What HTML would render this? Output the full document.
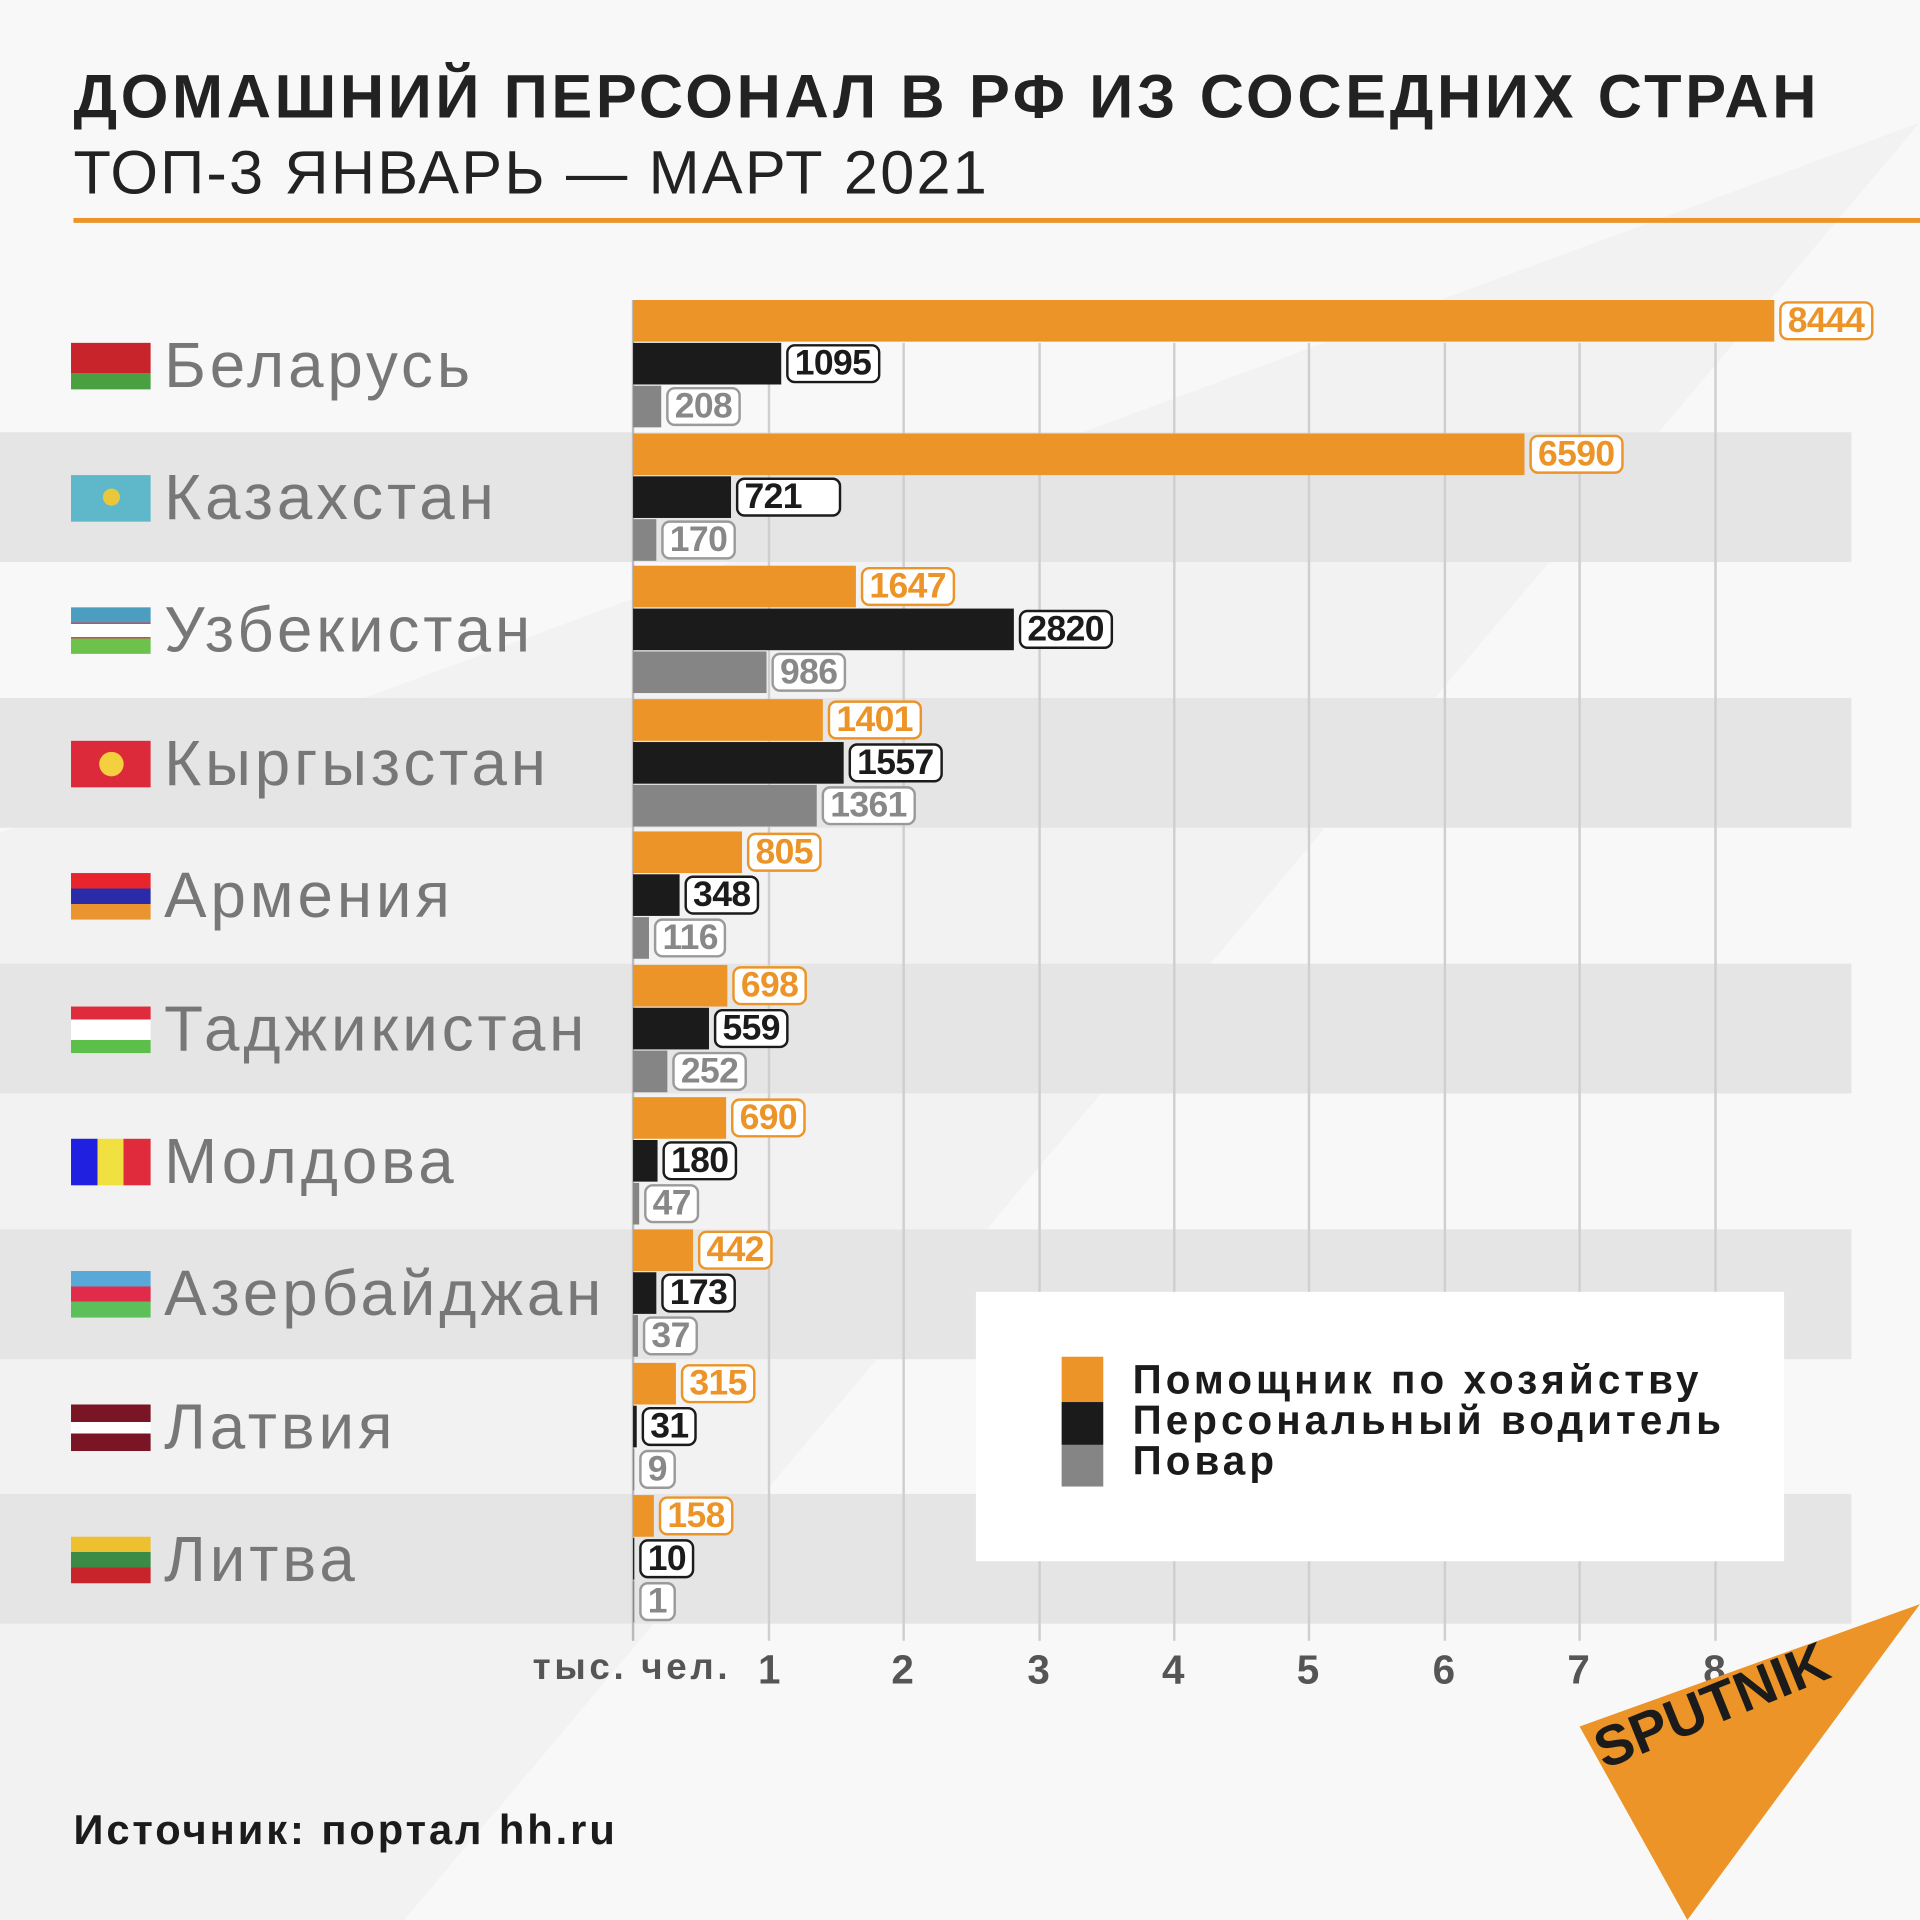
<!DOCTYPE html>
<html><head><meta charset="utf-8"><style>
html,body{margin:0;padding:0;background:#f8f8f8;}
#wrap{width:1920px;height:1920px;overflow:hidden;position:relative;}
#s{position:absolute;left:0;top:0;width:1568px;height:1568px;transform:scale(1.22449);transform-origin:0 0;font-family:"Liberation Sans",sans-serif;}
.a{position:absolute;}
.band{position:absolute;left:0;width:1512px;height:106px;background:#e5e5e5;}
.grid{position:absolute;top:280px;height:1060px;width:2px;background:#cfcfcf;}
.row{position:absolute;left:0;height:108px;width:517px;display:flex;align-items:center;}
.flag{position:absolute;left:58px;width:65px;height:38px;}
.name{position:absolute;left:134px;font-size:52px;color:#777;letter-spacing:3.2px;}
.bl{position:absolute;left:517px;height:34px;display:flex;align-items:center;}
.bar{height:34px;}
.lb{margin-left:4px;height:28px;line-height:28px;border:2px solid;border-radius:7px;padding:0 5px;font-size:29px;font-weight:bold;letter-spacing:-0.5px;background:#fff;}
.o .bar{background:#ec9427;} .o .lb{border-color:#ec9427;color:#ec9427;background:#fff;}
.k .bar{background:#1b1b1b;} .k .lb{border-color:#1b1b1b;color:#1b1b1b;}
.g .bar{background:#858585;} .g .lb{border-color:#9a9a9a;color:#888;}
.tick{position:absolute;top:1345px;font-size:33px;font-weight:bold;color:#555;}
</style></head><body><div id="wrap"><div id="s">
<svg class="a" style="left:0;top:0" width="1568" height="1568"><polygon points="0,680 1568,100 330,1568 0,1568" fill="rgba(0,0,0,0.025)"/></svg>
<div class="a" style="left:60px;top:50px;font-size:50px;font-weight:bold;color:#222;letter-spacing:3px;white-space:nowrap">ДОМАШНИЙ ПЕРСОНАЛ В РФ ИЗ СОСЕДНИХ СТРАН</div>
<div class="a" style="left:60px;top:112px;font-size:50px;color:#222;letter-spacing:1.8px;white-space:nowrap">ТОП-3 ЯНВАРЬ — МАРТ 2021</div>
<div class="a" style="left:60px;top:178px;width:1508px;height:4px;background:#ec9427"></div>

<div class="band" style="top:353px"></div>
<div class="band" style="top:570px"></div>
<div class="band" style="top:787px"></div>
<div class="band" style="top:1004px"></div>
<div class="band" style="top:1220px"></div>

<div class="grid" style="left:516px;top:245px;height:1095px;background:#bbb"></div>
<div class="grid" style="left:627px"></div>
<div class="grid" style="left:737px"></div>
<div class="grid" style="left:848px"></div>
<div class="grid" style="left:958px"></div>
<div class="grid" style="left:1068px"></div>
<div class="grid" style="left:1179px"></div>
<div class="grid" style="left:1289px"></div>
<div class="grid" style="left:1400px"></div>

<div class="row" style="top:245px"><div class="flag" style="background:linear-gradient(#c8242b 0 65%,#4aa040 65%)"></div><div class="name">Беларусь</div></div>
<div class="row" style="top:353px"><div class="flag" style="background:#5fb8c9"><div style="position:absolute;left:26px;top:11px;width:14px;height:14px;border-radius:50%;background:#e8c83a"></div></div><div class="name">Казахстан</div></div>
<div class="row" style="top:461px"><div class="flag" style="background:linear-gradient(#4b9ec0 0 33%,#d7465c 33% 36%,#fff 36% 64%,#d7465c 64% 67%,#6cc24a 67%)"></div><div class="name">Узбекистан</div></div>
<div class="row" style="top:570px"><div class="flag" style="background:#dd2a3a"><div style="position:absolute;left:23px;top:9px;width:20px;height:20px;border-radius:50%;background:#f4d03f"></div></div><div class="name">Кыргызстан</div></div>
<div class="row" style="top:678px"><div class="flag" style="background:linear-gradient(#e8242c 0 33%,#2a2ba8 33% 66%,#ea9430 66%)"></div><div class="name">Армения</div></div>
<div class="row" style="top:787px"><div class="flag" style="background:linear-gradient(#e02b3d 0 28%,#fff 28% 72%,#5cbf4a 72%)"></div><div class="name">Таджикистан</div></div>
<div class="row" style="top:895px"><div class="flag" style="background:linear-gradient(90deg,#2020e0 0 33%,#f0e040 33% 66%,#e02b3d 66%)"></div><div class="name">Молдова</div></div>
<div class="row" style="top:1003px"><div class="flag" style="background:linear-gradient(#58a8d8 0 33%,#e02b4a 33% 66%,#5cbf5a 66%)"></div><div class="name">Азербайджан</div></div>
<div class="row" style="top:1112px"><div class="flag" style="background:linear-gradient(#7a1526 0 38%,#fff 38% 62%,#7a1526 62%)"></div><div class="name">Латвия</div></div>
<div class="row" style="top:1220px"><div class="flag" style="background:linear-gradient(#eec030 0 33%,#3b8a45 33% 66%,#c8242b 66%)"></div><div class="name">Литва</div></div>

<div class="bl o" style="top:245px"><div class="bar" style="width:932px"></div><div class="lb">8444</div></div>
<div class="bl k" style="top:280px"><div class="bar" style="width:121px"></div><div class="lb">1095</div></div>
<div class="bl g" style="top:315px"><div class="bar" style="width:23px"></div><div class="lb">208</div></div>

<div class="bl o" style="top:354px"><div class="bar" style="width:728px"></div><div class="lb">6590</div></div>
<div class="bl k" style="top:389px"><div class="bar" style="width:80px"></div><div class="lb" style="padding-right:30px">721</div></div>
<div class="bl g" style="top:424px"><div class="bar" style="width:19px"></div><div class="lb">170</div></div>

<div class="bl o" style="top:462px"><div class="bar" style="width:182px"></div><div class="lb">1647</div></div>
<div class="bl k" style="top:497px"><div class="bar" style="width:311px"></div><div class="lb">2820</div></div>
<div class="bl g" style="top:532px"><div class="bar" style="width:109px"></div><div class="lb">986</div></div>

<div class="bl o" style="top:571px"><div class="bar" style="width:155px"></div><div class="lb">1401</div></div>
<div class="bl k" style="top:606px"><div class="bar" style="width:172px"></div><div class="lb">1557</div></div>
<div class="bl g" style="top:641px"><div class="bar" style="width:150px"></div><div class="lb">1361</div></div>

<div class="bl o" style="top:679px"><div class="bar" style="width:89px"></div><div class="lb">805</div></div>
<div class="bl k" style="top:714px"><div class="bar" style="width:38px"></div><div class="lb">348</div></div>
<div class="bl g" style="top:749px"><div class="bar" style="width:13px"></div><div class="lb">116</div></div>

<div class="bl o" style="top:788px"><div class="bar" style="width:77px"></div><div class="lb">698</div></div>
<div class="bl k" style="top:823px"><div class="bar" style="width:62px"></div><div class="lb">559</div></div>
<div class="bl g" style="top:858px"><div class="bar" style="width:28px"></div><div class="lb">252</div></div>

<div class="bl o" style="top:896px"><div class="bar" style="width:76px"></div><div class="lb">690</div></div>
<div class="bl k" style="top:931px"><div class="bar" style="width:20px"></div><div class="lb">180</div></div>
<div class="bl g" style="top:966px"><div class="bar" style="width:5px"></div><div class="lb">47</div></div>

<div class="bl o" style="top:1004px"><div class="bar" style="width:49px"></div><div class="lb">442</div></div>
<div class="bl k" style="top:1039px"><div class="bar" style="width:19px"></div><div class="lb">173</div></div>
<div class="bl g" style="top:1074px"><div class="bar" style="width:4px"></div><div class="lb">37</div></div>

<div class="bl o" style="top:1113px"><div class="bar" style="width:35px"></div><div class="lb">315</div></div>
<div class="bl k" style="top:1148px"><div class="bar" style="width:3px"></div><div class="lb">31</div></div>
<div class="bl g" style="top:1183px"><div class="bar" style="width:1px"></div><div class="lb">9</div></div>

<div class="bl o" style="top:1221px"><div class="bar" style="width:17px"></div><div class="lb">158</div></div>
<div class="bl k" style="top:1256px"><div class="bar" style="width:1px"></div><div class="lb">10</div></div>
<div class="bl g" style="top:1291px"><div class="bar" style="width:1px"></div><div class="lb">1</div></div>

<div class="tick" style="left:435px;font-size:30px;letter-spacing:3px">тыс. чел.</div>
<div class="tick" style="left:619px">1</div>
<div class="tick" style="left:728px">2</div>
<div class="tick" style="left:839px">3</div>
<div class="tick" style="left:949px">4</div>
<div class="tick" style="left:1059px">5</div>
<div class="tick" style="left:1170px">6</div>
<div class="tick" style="left:1280px">7</div>
<div class="tick" style="left:1391px">8</div>

<div class="a" style="left:797px;top:1055px;width:660px;height:220px;background:#fff"></div>
<div class="a" style="left:867px;top:1108px;width:34px;height:37px;background:#ec9427"></div>
<div class="a" style="left:867px;top:1145px;width:34px;height:35px;background:#1b1b1b"></div>
<div class="a" style="left:867px;top:1180px;width:34px;height:34px;background:#858585"></div>
<div class="a" style="left:925px;top:1110px;font-size:33px;font-weight:bold;color:#1b1b1b;line-height:33px;letter-spacing:3.3px;white-space:nowrap">Помощник по хозяйству<br>Персональный водитель<br>Повар</div>

<div class="a" style="left:60px;top:1476px;font-size:34px;font-weight:bold;color:#1b1b1b;letter-spacing:2.4px;white-space:nowrap">Источник: портал hh.ru</div>

<svg class="a" style="left:0;top:0" width="1568" height="1568">
<polygon points="1290,1410 1568,1310 1378,1568" fill="#ec9427"/>
<text x="1310" y="1445" font-family="Liberation Sans" font-weight="bold" font-size="46" fill="#1b1b1b" transform="rotate(-22 1310 1445)">SPUTNIK</text>
</svg>
</div></div></body></html>
